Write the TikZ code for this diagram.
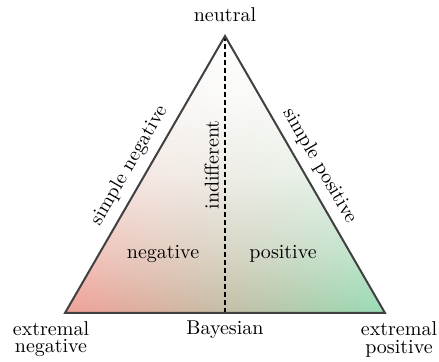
\documentclass[tikz,border=0pt]{standalone}
\usetikzlibrary{fadings}
\definecolor{negc}{RGB}{240,150,140}
\definecolor{posc}{RGB}{140,216,172}
\definecolor{edgec}{RGB}{64,64,64}
\pgfdeclareverticalshading{whitefadeshade}{100bp}{color(0bp)=(black); color(25bp)=(black); color(37.5bp)=(black!58); color(50bp)=(black!25); color(62.5bp)=(black!7); color(75bp)=(white); color(100bp)=(white)}
\begin{tikzfadingfrompicture}[name=topfade]
  \shade[shading=whitefadeshade] (0,0) rectangle (2,2);
\end{tikzfadingfrompicture}
\begin{document}
\begin{tikzpicture}[x=1pt,y=1pt,
  edge/.style={draw=edgec, line width=1pt},
  dashline/.style={draw=black, line width=0.6pt, dash pattern=on 2.5pt off 1.5pt},
  lbl/.style={font=\normalsize}]
\useasboundingbox (0,0) rectangle (219.5,181);
\coordinate (A) at (32.5,24.5);
\coordinate (B) at (192.5,24.5);
\coordinate (C) at (112.5,163);
\coordinate (D) at (112.5,24.5);
\shade[left color=negc, right color=posc] (A) -- (B) -- (C) -- cycle;
\fill[white, path fading=topfade, fit fading=true] (A) -- (B) -- (C) -- cycle;
\draw[dashline] (C) -- (D);
\draw[edge] (A) -- (B) -- (C) -- cycle;
\node[lbl, anchor=base] (neutral) at (112.5,170) {neutral};
\node[lbl, anchor=base] (bayes) at (112.5,13.5) {Bayesian};
\node[lbl, align=center] (extneg) at (25.5,11.3) {extremal\\[-3.3pt]negative};
\node[lbl, align=center] (extpos) at (199.5,11.3) {extremal\\[-3.3pt]positive};
\node[lbl, anchor=base] (neg) at (81.5,51.5) {negative};
\node[lbl, anchor=base] (pos) at (141.5,51.5) {positive};
\node[lbl, rotate=90, anchor=base] (indiff) at (109.25,98.5) {indifferent};
\path (A) -- (C) node[lbl, midway, sloped, above=1pt] (sneg) {simple negative};
\path (C) -- (B) node[lbl, midway, sloped, above=0.5pt] (spos) {simple positive};
\end{tikzpicture}
\end{document}
